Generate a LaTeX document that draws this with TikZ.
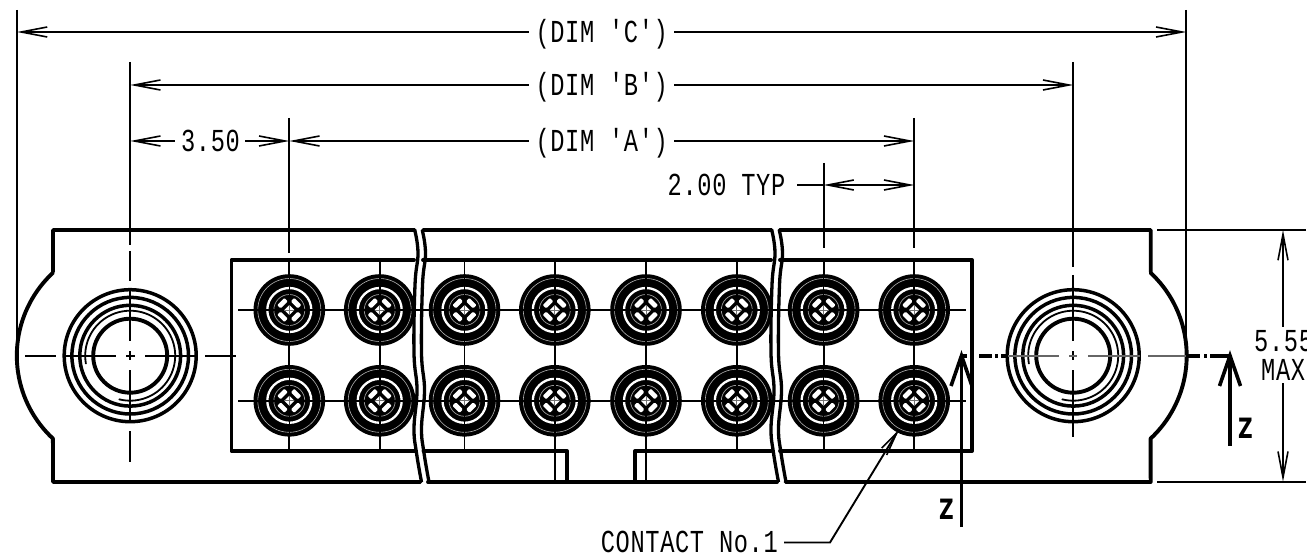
\documentclass[tikz,border=0pt]{standalone}
\usepackage{fontspec}
\usetikzlibrary{arrows.meta}
\setmainfont{Liberation Sans}
\newfontfamily\dimfont[FakeStretch=0.74,LetterSpace=2]{Liberation Mono}
\newfontfamily\zfont[FakeStretch=0.72,UprightFont=* Bold]{DejaVu Sans}
\tikzset{
  thickl/.style={line width=3.9pt,line join=round,line cap=round},
  ringl/.style={line width=3.5pt},
  thinl/.style={line width=1.9pt},
  greyl/.style={line width=1.6pt,draw=black!60},
  dimline/.style={line width=1.9pt},
  barb/.tip={Straight Barb[length=26pt,width=10pt,line width=1.6pt]},
  dimtext/.style={inner sep=0pt,text height=20.5pt,text depth=0pt,font=\fontsize{32}{34}\selectfont\dimfont},
  ztext/.style={inner sep=0pt,text height=21pt,text depth=0pt,font=\fontsize{28}{30}\selectfont\zfont},
}
\newcommand{\contactsym}[2]{%
  \fill[black] (#1,#2) circle[radius=35.8];
  \draw[white!70!black,line width=.6pt] (#1,#2) circle[radius=31.5];
  \draw[white,line width=2.3pt] (#1,#2) circle[radius=22];
  \draw[white!60!black,line width=.7pt] (#1,#2) circle[radius=15.5];
  \foreach \a in {45,135,225,315}{
    \fill[white,rounded corners=1pt,shift={(#1,#2)},rotate=\a]
      (7.2,-5) rectangle (12,5);
  }
  \fill[white] (#1-5,#2) -- (#1,#2-5) -- (#1+5,#2) -- (#1,#2+5) -- cycle;
  \draw[black,line width=1.6pt] (#1-35,#2) -- (#1-5.5,#2) (#1+5.5,#2) -- (#1+35,#2)
     (#1,#2-35) -- (#1,#2-5.5) (#1,#2+5.5) -- (#1,#2+35);
  \draw[black!55,line width=.9pt] (#1-5,#2) -- (#1+5,#2) (#1,#2-5) -- (#1,#2+5);
}
\newcommand{\holesym}[1]{%
  \foreach \r in {66,58.3,50.4}{\draw[ringl] (#1,355.7) circle[radius=\r];}
  \draw[thickl] (#1,355.7) circle[radius=37];
  \draw[line width=1.8pt,line cap=round] plot[domain=170:464,samples=70]
     ({#1+45*cos(\x)},{355.7+45*sin(\x)});
}
\begin{document}
\begin{tikzpicture}[x=1pt,y=-1pt]
\useasboundingbox (0,0) rectangle (1307,556);
\clip (0,0) rectangle (1307,556);

% extension and centre lines
\foreach \c in {289.3,379.7,464.5,554.8,646,736.8,823.6,914.2}{
  \draw[thinl] (\c,262) -- (\c,451);
  \foreach \y in {310,400.8}{\contactsym{\c}{\y}}
}
\foreach \y in {310,400.8}{
  \draw[thinl] (238,\y) -- (254,\y) (325,\y) -- (344,\y) (415,\y) -- (429,\y)
    (500,\y) -- (519,\y) (590,\y) -- (610,\y) (682,\y) -- (701,\y) (772,\y) -- (788,\y)
    (859,\y) -- (879,\y) (950,\y) -- (965.5,\y);
}
\draw[line width=2.4pt] (554.8,451) -- (554.8,482) (646,451) -- (646,482);

% body outline
\draw[thickl] (414.7,230) -- (53,230) -- (53,272)
  plot[domain=132.9:227.1,samples=40] ({130+113.2*cos(\x)},{355.7-113.2*sin(\x)})
  -- (53,482) -- (420.5,482);
\draw[thickl] (423,230) -- (771.7,230) (779.5,230) -- (1150.7,230) -- (1150.7,272)
  plot[domain=47.1:-47.1,samples=40] ({1073.5+113.2*cos(\x)},{355.7-113.2*sin(\x)})
  -- (1150.7,482) -- (785.5,482);
\draw[thickl] (428,482) -- (777,482);
% inner rectangle
\draw[thickl] (414,260) -- (231.5,260) -- (231.5,451) -- (415,451);
\draw[thickl] (423,260) -- (771,260) (780,260) -- (972,260) -- (972,451) -- (780,451);
\draw[thickl] (423.5,451) -- (567,451) -- (567,482);
\draw[thickl] (635,482) -- (635,451) -- (771,451);
% break lines
\foreach \o in {0,357}{
  \foreach \d in {0,7.5}{
    \draw[line width=3.3pt] plot[smooth,tension=.7] coordinates {
      ({\o+\d+414.7},230) ({\o+\d+418},253) ({\o+\d+415},285) ({\o+\d+414},353)
      ({\o+\d+417},390) ({\o+\d+414},428) ({\o+\d+416.5},453) ({\o+\d+421.5},482)};
  }
}

% holes
\holesym{130.2}
\holesym{1073.2}

% hole centre lines
\draw[thinl] (130.2,62) -- (130.2,245) (130.2,251) -- (130.2,281) (130.2,288) -- (130.2,341)
  (130.2,351) -- (130.2,360) (130.2,370) -- (130.2,421) (130.2,431) -- (130.2,462);
\draw[thinl] (25,355.7) -- (56,355.7) (65.7,355.7) -- (116,355.7) (126,355.7) -- (135,355.7)
  (145,355.7) -- (197,355.7) (205,355.7) -- (236,355.7);
\draw[thinl] (1073.2,62) -- (1073.2,267) (1073.2,275) -- (1073.2,341)
  (1073.2,351) -- (1073.2,360) (1073.2,370) -- (1073.2,437);
\draw[greyl] (1008,355.7) -- (1059,355.7) (1069,355.7) -- (1077,355.7)
  (1088,355.7) -- (1140,355.7) (1148,355.7) -- (1186,355.7);

% section line and arrows
\draw[line width=3.8pt] (961,355.7) -- (967,355.7) (979,355.7) -- (992,355.7) (995,355.7) -- (998,355.7) (1001,355.7) -- (1007,355.7)
  (1186,355.7) -- (1200,355.7) (1204,355.7) -- (1207,355.7) (1210,355.7) -- (1230,355.7);
\coordinate (zl0) at (961.5,527); \coordinate (zl1) at (961.5,355.7);
\coordinate (zr0) at (1230,445.7); \coordinate (zr1) at (1230,355.7);
\draw[thickl,line cap=butt] (zl0) -- (zl1);
\draw[thickl,line cap=butt] (zr0) -- (zr1);
\draw[line width=3.6pt] (951,386) -- (zl1) -- (972,386);
\draw[line width=3.6pt] (1219.5,386) -- (zr1) -- (1240.5,386);
\node[ztext] (zleft) at (946.5,509) {Z};
\node[ztext] (zright) at (1245.5,427.5) {Z};

% extension lines of the dimensions
\coordinate (cl) at (17,32); \coordinate (cr) at (1186.3,32);
\coordinate (bl) at (130.2,85); \coordinate (br) at (1073.2,85);
\coordinate (al) at (289.3,141); \coordinate (ar) at (914.2,141);
\coordinate (tl) at (823.6,185); \coordinate (tr) at (914.2,185);
\coordinate (hl) at (130.2,141);
\draw[thinl] (17,10) -- (17,340) (1186.3,10) -- (1186.3,342);
\draw[thinl] (289.3,118) -- (289.3,253) (914.2,118) -- (914.2,248) (823.6,163) -- (823.6,248);

% dimensions
\node[dimtext] (dimc) at (601.7,32) {(DIM 'C')};
\node[dimtext] (dimb) at (601.7,85) {(DIM 'B')};
\node[dimtext] (dima) at (601.7,141) {(DIM 'A')};
\draw[dimline,barb-] (cl) -- (529,32);
\draw[dimline,-barb] (674,32) -- (cr);
\draw[dimline,barb-] (bl) -- (529,85);
\draw[dimline,-barb] (674,85) -- (br);
\draw[dimline,barb-] (al) -- (529,141);
\draw[dimline,-barb] (674,141) -- (ar);
\node[dimtext] (dimh) at (210.5,141) {3.50};
\draw[dimline,barb-] (hl) -- (175,141);
\draw[dimline,-barb] (245,141) -- (al);
\node[dimtext] (dimt) at (726.5,185) {2.00 TYP};
\draw[dimline] (797,185) -- (tl);
\draw[dimline,barb-barb] (tl) -- (tr);

% height dimension
\draw[thinl] (1157,230) -- (1305.7,230) (1157,481.7) -- (1305.7,481.7);
\coordinate (ht) at (1283,230); \coordinate (hb) at (1283,481.7);
\draw[dimline,-barb] (1283,326.5) -- (ht);
\draw[dimline,-barb] (1283,383) -- (hb);
\node[dimtext,anchor=west] (h55) at (1254,341.5) {5.55};
\node[dimtext,anchor=west] (hmax) at (1261,370) {MAX};

% leader
\node[dimtext,anchor=east] (cn) at (778,542.5) {CONTACT No.1};
\coordinate (lk) at (830,542.5);
\coordinate (lt) at (896.7,433);
\draw[dimline] (cn.east) ++(6,0) -- (lk) -- (lt);
\draw[line width=1.6pt] (881.7,448) -- (lt) -- (886.7,455);
\end{tikzpicture}
\end{document}
